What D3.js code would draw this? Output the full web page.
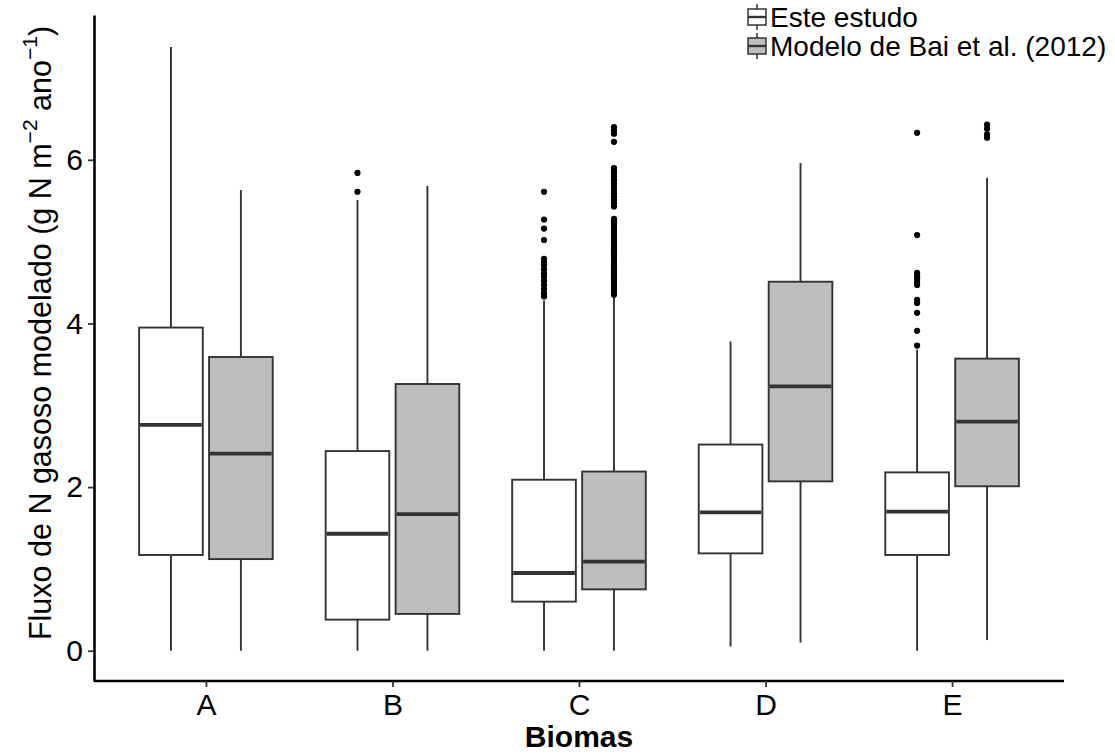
<!DOCTYPE html>
<html>
<head>
<meta charset="utf-8">
<script src="https://cdn.jsdelivr.net/npm/d3@7"></script>
<style>
  body { margin: 0; background: #fff; }
  text { font-family: "Liberation Sans", Arial, sans-serif; }
</style>
</head>
<body>
<div id="canvas"></div>
<script>
"use strict"

/* Data */
let categories = ["A", "B", "C", "D", "E"];
let groups = ["Este estudo", "Modelo de Bai et al. (2012)"];

/* Este estudo: whisker low, Q1, median, Q3, whisker high */
let esteLow = [0, 0, 0, 0.05, 0];
let esteQ1 = [1.17, 0.38, 0.60, 1.19, 1.17];
let esteMed = [2.76, 1.43, 0.95, 1.69, 1.70];
let esteQ3 = [3.95, 2.44, 2.09, 2.52, 2.18];
let esteHigh = [7.38, 5.51, 4.28, 3.78, 3.68];
let esteOut = [
    [],
    [5.84, 5.61],
    [5.61, 5.27, 5.16, 5.02, 4.79, 4.75, 4.71, 4.66, 4.61, 4.57, 4.52, 4.47, 4.42, 4.37, 4.33],
    [],
    [6.33, 5.08, 4.62, 4.58, 4.55, 4.51, 4.47, 4.29, 4.25, 4.13, 3.91, 3.73]
];

/* Modelo de Bai et al. (2012) */
let baiLow = [0, 0, 0, 0.10, 0.13];
let baiQ1 = [1.12, 0.45, 0.75, 2.07, 2.01];
let baiMed = [2.41, 1.67, 1.09, 3.23, 2.80];
let baiQ3 = [3.59, 3.26, 2.19, 4.51, 3.57];
let baiHigh = [5.63, 5.68, 4.33, 5.96, 5.78];
let baiOut = [
    [],
    [],
    [6.40, 6.36, 6.32, 6.22, 5.90, 5.86, 5.83, 5.79, 5.75, 5.71, 5.67, 5.63, 5.59, 5.55, 5.51, 5.47, 5.43,
     5.28, 5.25, 5.22, 5.19, 5.16, 5.13, 5.10, 5.07, 5.04, 5.01, 4.98, 4.95, 4.92, 4.89, 4.86, 4.83,
     4.80, 4.77, 4.74, 4.71, 4.68, 4.65, 4.62, 4.59, 4.56, 4.53, 4.50, 4.47, 4.44, 4.41, 4.38, 4.35],
    [],
    [6.43, 6.38, 6.31, 6.27]
];

let yTicks = [0, 2, 4, 6];

/* Drawing sizes */
let svgWidth = 1115;
let svgHeight = 754;
let leftEdge = 94;
let rightEdge = 1064;
let topEdge = 15;
let bottomEdge = 681;

let fills = ["#ffffff", "#bebebe"];
let boxStroke = "#333333";

/* table of boxes built from the arrays */
let boxes = [];
for (let i = 0; i < categories.length; i++) {
    boxes.push({ cat: categories[i], group: groups[0], low: esteLow[i], q1: esteQ1[i], med: esteMed[i], q3: esteQ3[i], high: esteHigh[i], out: esteOut[i] });
    boxes.push({ cat: categories[i], group: groups[1], low: baiLow[i], q1: baiQ1[i], med: baiMed[i], q3: baiQ3[i], high: baiHigh[i], out: baiOut[i] });
}

let svg = d3.select("#canvas")
    .append("svg")
    .attr("width", svgWidth)
    .attr("height", svgHeight);

/* Scales */
let xScale = d3.scalePoint()
    .domain(categories)
    .range([leftEdge, rightEdge])
    .padding(0.6);

let xSub = d3.scaleBand()
    .domain(groups)
    .range([-0.375 * xScale.step(), 0.375 * xScale.step()]);

let boxWidth = xSub.bandwidth() * 0.91;

let yScale = d3.scaleLinear()
    .domain([-0.37, 7.77])
    .range([bottomEdge, topEdge]);

/* Boxes */
let boxG = svg.selectAll("g.box")
    .data(boxes)
    .join("g")
    .attr("class", "box")
    .attr("transform", function (d) {
        return "translate(" + (xScale(d.cat) + xSub(d.group) + xSub.bandwidth() / 2) + ",0)";
    });

// upper whisker
boxG.append("line")
    .attr("x1", 0).attr("x2", 0)
    .attr("y1", d => yScale(d.q3))
    .attr("y2", d => yScale(d.high))
    .attr("stroke", boxStroke)
    .attr("stroke-width", 1.9);

// lower whisker
boxG.append("line")
    .attr("x1", 0).attr("x2", 0)
    .attr("y1", d => yScale(d.q1))
    .attr("y2", d => yScale(d.low))
    .attr("stroke", boxStroke)
    .attr("stroke-width", 1.9);

boxG.append("rect")
    .attr("x", -boxWidth / 2)
    .attr("width", boxWidth)
    .attr("y", d => yScale(d.q3))
    .attr("height", d => yScale(d.q1) - yScale(d.q3))
    .attr("fill", d => fills[groups.indexOf(d.group)])
    .attr("stroke", boxStroke)
    .attr("stroke-width", 1.9);

// median
boxG.append("line")
    .attr("x1", -boxWidth / 2 + 1)
    .attr("x2", boxWidth / 2 - 1)
    .attr("y1", d => yScale(d.med))
    .attr("y2", d => yScale(d.med))
    .attr("stroke", boxStroke)
    .attr("stroke-width", 3.8);

// outliers
boxG.selectAll("circle")
    .data(d => d.out)
    .join("circle")
    .attr("cx", 0)
    .attr("cy", d => yScale(d))
    .attr("r", 3.1)
    .attr("fill", "black");

/* Axes */
let yAxis = svg.append("g")
    .attr("transform", "translate(" + leftEdge + ",0)")
    .call(d3.axisLeft(yScale).tickValues(yTicks).tickSize(6).tickSizeOuter(0).tickPadding(5));

let xAxis = svg.append("g")
    .attr("transform", "translate(0," + bottomEdge + ")")
    .call(d3.axisBottom(xScale).tickSize(6).tickSizeOuter(0).tickPadding(7));

xAxis.select(".domain").attr("d", "M" + leftEdge + ",0H" + rightEdge);

[yAxis, xAxis].forEach(function (ax) {
    ax.select(".domain").attr("stroke", "black").attr("stroke-width", 2.6);
    ax.selectAll(".tick line").attr("stroke", "#333").attr("stroke-width", 1.8);
    ax.selectAll(".tick text")
        .attr("fill", "black")
        .style("font-size", "30px")
        .style("font-family", "'Liberation Sans', Arial, sans-serif");
});

/* Axis titles */
svg.append("text")
    .attr("x", (leftEdge + rightEdge) / 2)
    .attr("y", 747)
    .attr("text-anchor", "middle")
    .style("font-size", "30px")
    .style("font-weight", "bold")
    .text("Biomas");

let yTitle = svg.append("text")
    .attr("transform", "translate(43,333) rotate(-90)")
    .attr("text-anchor", "middle")
    .attr("dominant-baseline", "middle")
    .style("font-size", "30.5px");
yTitle.append("tspan").text("Fluxo de N gasoso modelado (g N m");
yTitle.append("tspan").attr("dy", -12).style("font-size", "21px").text("\u22122");
yTitle.append("tspan").attr("dy", 12).text(" ano");
yTitle.append("tspan").attr("dy", -12).style("font-size", "21px").text("\u22121");
yTitle.append("tspan").attr("dy", 12).text(")");

/* Legend */
let legend = svg.selectAll("g.legend")
    .data(groups)
    .join("g")
    .attr("class", "legend")
    .attr("transform", (d, i) => "translate(757," + (17 + i * 29) + ")");

legend.append("line")
    .attr("y1", -13).attr("y2", 13)
    .attr("stroke", boxStroke)
    .attr("stroke-width", 1.5);

legend.append("rect")
    .attr("x", -9).attr("y", -8)
    .attr("width", 18).attr("height", 16)
    .attr("fill", (d, i) => fills[i])
    .attr("stroke", boxStroke)
    .attr("stroke-width", 1.5);

legend.append("line")
    .attr("x1", -9).attr("x2", 9)
    .attr("stroke", boxStroke)
    .attr("stroke-width", 2.4);

legend.append("text")
    .attr("x", 13)
    .attr("dy", "0.36em")
    .style("font-size", "28px")
    .text(d => d);
</script>
</body>
</html>
